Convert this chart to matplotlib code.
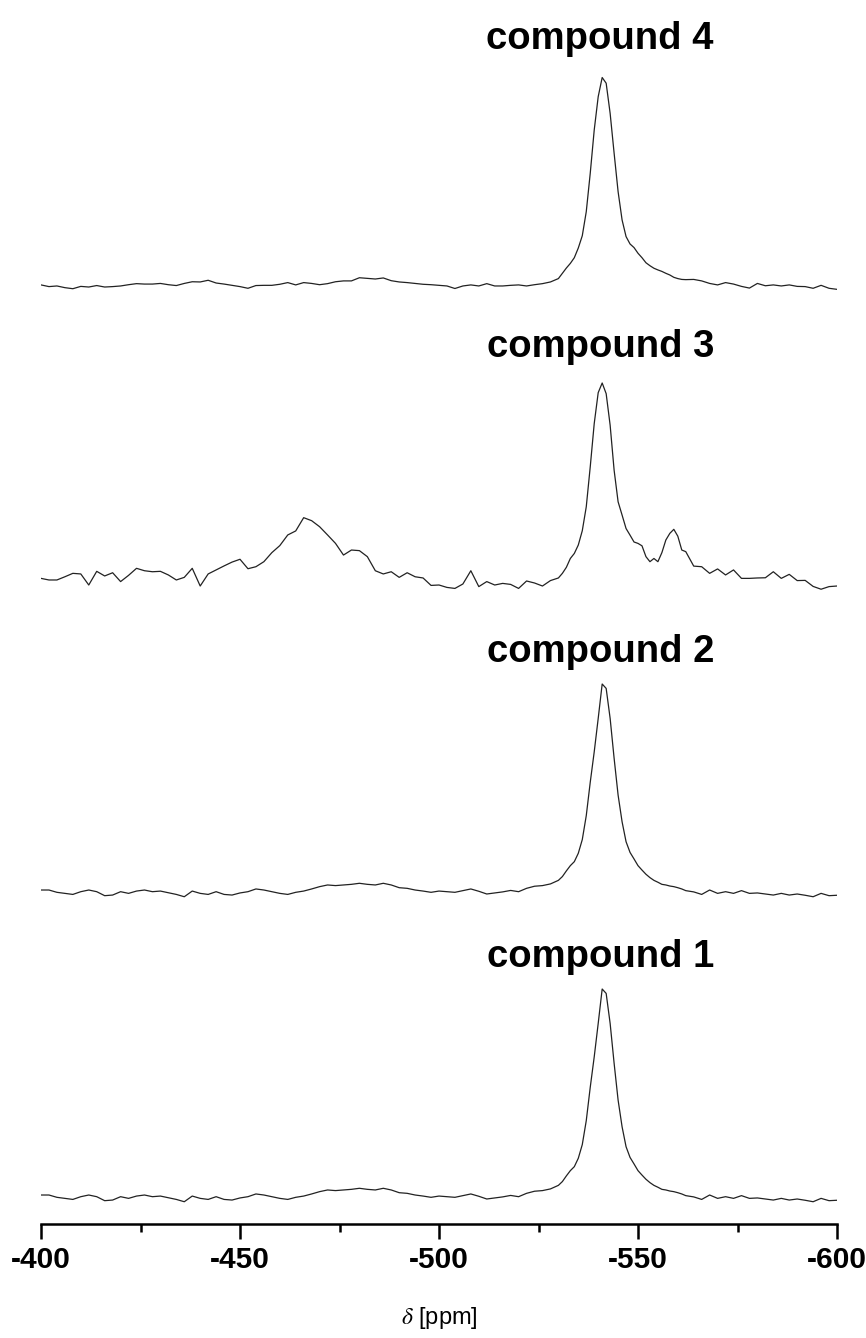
import numpy as np
import matplotlib.pyplot as plt
from matplotlib.ticker import MultipleLocator

plt.rcParams['font.family'] = ['Liberation Sans', 'DejaVu Sans']
plt.rcParams['mathtext.fontset'] = 'stix'
plt.rcParams['axes.unicode_minus'] = False

# chemical shift grid (ppm): coarse baseline, finer around the main line
ppm = np.concatenate([np.arange(-400, -530, -2),
                      np.arange(-530, -563, -1),
                      np.arange(-564, -601, -2)])

# normalised intensities (main line = 1)
compound1 = [
    0.019, 0.019, 0.008, 0.003, -0.002, 0.011, 0.019, 0.011, -0.008, -0.005,
    0.011, 0.003, 0.014, 0.019, 0.011, 0.014, 0.006, -0.002, -0.013, 0.014,
    0.003, -0.002, 0.011, -0.002, -0.005, 0.005, 0.011, 0.024, 0.019, 0.011,
    0.003, -0.002, 0.008, 0.014, 0.024, 0.035, 0.043, 0.040, 0.043, 0.046,
    0.051, 0.046, 0.043, 0.051, 0.043, 0.030, 0.027, 0.019, 0.014, 0.008,
    0.014, 0.011, 0.008, 0.016, 0.024, 0.013, 0.000, 0.005, 0.010, 0.017,
    0.011, 0.027, 0.037, 0.040, 0.048,
    0.065, 0.083, 0.110, 0.135, 0.154, 0.194, 0.259, 0.373, 0.532, 0.677,
    0.836, 1.000, 0.979, 0.836, 0.646, 0.471, 0.344, 0.249, 0.198, 0.167,
    0.135, 0.114, 0.094, 0.078, 0.065, 0.056, 0.046, 0.043, 0.038, 0.035,
    0.030, 0.024, 0.016,
    0.010, -0.002, 0.019, 0.003, 0.011, 0.003, 0.016, 0.003, 0.005, 0.000,
    -0.005, 0.003, -0.005, 0.000, -0.006, -0.013, 0.003, -0.008, -0.006,
]

compound2 = [
    0.019, 0.019, 0.008, 0.003, -0.002, 0.011, 0.019, 0.011, -0.008, -0.005,
    0.011, 0.003, 0.014, 0.019, 0.011, 0.014, 0.006, -0.002, -0.013, 0.014,
    0.003, -0.002, 0.011, -0.002, -0.005, 0.005, 0.011, 0.024, 0.019, 0.011,
    0.003, -0.002, 0.008, 0.014, 0.024, 0.035, 0.043, 0.040, 0.043, 0.046,
    0.051, 0.046, 0.043, 0.051, 0.043, 0.030, 0.027, 0.019, 0.014, 0.008,
    0.014, 0.011, 0.008, 0.016, 0.024, 0.013, 0.000, 0.005, 0.010, 0.017,
    0.011, 0.027, 0.037, 0.040, 0.048,
    0.065, 0.083, 0.110, 0.135, 0.154, 0.194, 0.259, 0.373, 0.532, 0.677,
    0.836, 1.000, 0.979, 0.836, 0.646, 0.471, 0.344, 0.249, 0.198, 0.167,
    0.135, 0.114, 0.094, 0.078, 0.065, 0.056, 0.046, 0.043, 0.038, 0.035,
    0.030, 0.024, 0.016,
    0.010, -0.002, 0.019, 0.003, 0.011, 0.003, 0.016, 0.003, 0.005, 0.000,
    -0.005, 0.003, -0.005, 0.000, -0.006, -0.013, 0.003, -0.008, -0.006,
]

compound3 = [
    0.028, 0.020, 0.020, 0.036, 0.053, 0.050, -0.005, 0.063, 0.040, 0.056,
    0.012, 0.043, 0.078, 0.066, 0.061, 0.063, 0.045, 0.020, 0.033, 0.078,
    -0.010, 0.050, 0.070, 0.090, 0.109, 0.123, 0.076, 0.086, 0.111, 0.156,
    0.191, 0.244, 0.264, 0.330, 0.315, 0.285, 0.244, 0.202, 0.144, 0.169,
    0.166, 0.136, 0.066, 0.050, 0.061, 0.033, 0.056, 0.036, 0.030, -0.007,
    -0.005, -0.017, -0.022, 0.000, 0.066, -0.013, 0.012, -0.005, 0.003, -0.002,
    -0.022, 0.015, 0.005, -0.010, 0.017,
    0.030, 0.053, 0.083, 0.127, 0.152, 0.194, 0.265, 0.384, 0.583, 0.798,
    0.952, 1.000, 0.947, 0.790, 0.566, 0.409, 0.343, 0.276, 0.243, 0.209,
    0.202, 0.190, 0.136, 0.111, 0.127, 0.111, 0.156, 0.219, 0.252, 0.272,
    0.238, 0.169, 0.161,
    0.089, 0.086, 0.053, 0.075, 0.045, 0.070, 0.028, 0.028, 0.030, 0.031,
    0.061, 0.028, 0.048, 0.017, 0.018, -0.012, -0.026, -0.013, -0.010,
]

compound4 = [
    0.017, 0.009, 0.012, 0.004, -0.001, 0.010, 0.007, 0.014, 0.007, 0.009,
    0.012, 0.018, 0.023, 0.021, 0.021, 0.024, 0.018, 0.014, 0.024, 0.032,
    0.031, 0.039, 0.026, 0.021, 0.015, 0.009, 0.001, 0.014, 0.015, 0.015,
    0.020, 0.028, 0.017, 0.028, 0.024, 0.018, 0.023, 0.032, 0.036, 0.036,
    0.051, 0.048, 0.045, 0.050, 0.037, 0.031, 0.028, 0.024, 0.020, 0.018,
    0.015, 0.012, 0.000, 0.012, 0.017, 0.012, 0.023, 0.012, 0.012, 0.015,
    0.017, 0.012, 0.018, 0.023, 0.031,
    0.047, 0.072, 0.097, 0.119, 0.146, 0.192, 0.250, 0.364, 0.546, 0.751,
    0.909, 1.000, 0.973, 0.830, 0.641, 0.459, 0.325, 0.246, 0.211, 0.194,
    0.167, 0.146, 0.122, 0.108, 0.096, 0.088, 0.081, 0.072, 0.064, 0.053,
    0.047, 0.043, 0.042,
    0.043, 0.036, 0.024, 0.017, 0.028, 0.021, 0.010, 0.002, 0.024, 0.013,
    0.017, 0.012, 0.017, 0.010, 0.009, 0.001, 0.015, 0.001, -0.004,
]

spectra = [compound1, compound2, compound3, compound4]
names = ['compound 1', 'compound 2', 'compound 3', 'compound 4']

# stacking layout (vertical offset, peak height, label height)
offsets = [25, 330, 640, 935.5]
heights = [210, 210, 201, 211]
label_y = [257, 562, 867, 1175]

fig = plt.figure(figsize=(8.66, 13.38), dpi=100)
ax = fig.add_axes([41 / 866, 1 - 1224 / 1338, 796 / 866, 1204 / 1338])

for spec, name, off, hgt, ly in zip(spectra, names, offsets, heights, label_y):
    ax.plot(ppm, off + hgt * np.array(spec), color='#222222', lw=0.9)
    ax.text(-540.5, ly, name, ha='center', va='baseline',
            fontsize=27.5, fontweight='bold')

ax.set_xlim(-400, -600)
ax.set_ylim(0, 1204)

for side in ['left', 'right', 'top']:
    ax.spines[side].set_visible(False)
ax.spines['bottom'].set_linewidth(1.8)
ax.set_yticks([])

ax.xaxis.set_major_locator(MultipleLocator(50))
ax.xaxis.set_minor_locator(MultipleLocator(25))
ax.tick_params(axis='x', which='major', direction='out', length=11, width=1.8,
               labelsize=21.5, pad=5)
ax.tick_params(axis='x', which='minor', direction='out', length=6, width=1.8)
for lbl in ax.get_xticklabels():
    lbl.set_fontweight('bold')

ax.set_xlabel(r'$\delta$ [ppm]', fontsize=17, labelpad=22)

fig.savefig('out.png', dpi=100)
